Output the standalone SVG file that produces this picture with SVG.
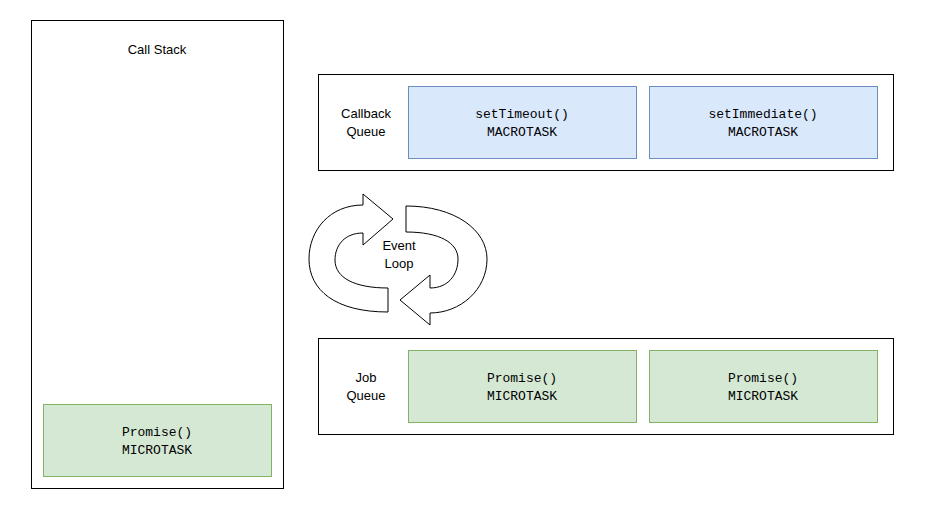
<svg xmlns="http://www.w3.org/2000/svg" width="925" height="515" viewBox="0 0 925 515">
<style>
.c{fill:#fff;stroke:#000;stroke-width:1}
.g{fill:#d5e8d4;stroke:#82b366}
.b{fill:#dae8fc;stroke:#6c8ebf}
.s{font-family:"Liberation Sans",Arial,sans-serif;font-size:13px;text-anchor:middle;fill:#000}
.m{font-family:"Liberation Mono","Courier New",monospace;font-size:13px;text-anchor:middle;fill:#000}
</style>
<rect width="925" height="515" fill="#fff"/>
<g id="callstack"><rect class="c" x="31.5" y="20.5" width="252" height="468"/><text class="s" x="157" y="54">Call Stack</text></g>
<g id="cs-promise"><rect class="g" x="43.5" y="404.5" width="228" height="72"/><text class="m" x="157" y="436">Promise()</text><text class="m" x="157" y="454">MICROTASK</text></g>
<g id="callback-queue"><rect class="c" x="318.5" y="74.5" width="575" height="96"/><text class="s" x="366" y="118">Callback</text><text class="s" x="366" y="136">Queue</text></g>
<g id="settimeout"><rect class="b" x="408.5" y="86.5" width="228" height="72"/><text class="m" x="522" y="118">setTimeout()</text><text class="m" x="522" y="136">MACROTASK</text></g>
<g id="setimmediate"><rect class="b" x="649.5" y="86.5" width="228" height="72"/><text class="m" x="763" y="118">setImmediate()</text><text class="m" x="763" y="136">MACROTASK</text></g>
<g id="job-queue"><rect class="c" x="318.5" y="338.5" width="575" height="96"/><text class="s" x="366" y="382">Job</text><text class="s" x="366" y="400">Queue</text></g>
<g id="jq-promise1"><rect class="g" x="408.5" y="350.5" width="228" height="72"/><text class="m" x="522" y="382">Promise()</text><text class="m" x="522" y="400">MICROTASK</text></g>
<g id="jq-promise2"><rect class="g" x="649.5" y="350.5" width="228" height="72"/><text class="m" x="763" y="382">Promise()</text><text class="m" x="763" y="400">MICROTASK</text></g>
<g id="event-loop">
<path class="c" d="M363,205 C330,205 309,230 309,259 C309,290 335,312 388,312 L388,288 C355,288 335,278 335,260 C335,245 345,233 363,233 L363,245 L393,219 L363,194 Z"/>
<path class="c" d="M406,206 C455,206 487,230 487,259 C487,290 460,313 430,313 L430,325 L400,300 L430,275 L430,288 C448,288 458,275 458,259 C458,243 440,232 406,232 Z"/>
<text class="s" x="399" y="250">Event</text><text class="s" x="399" y="268">Loop</text>
</g>
<g id="connectors"/>
</svg>
